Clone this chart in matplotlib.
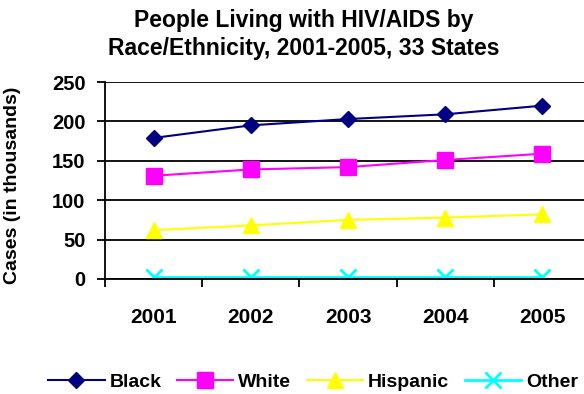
import matplotlib.pyplot as plt

plt.rcParams['font.family'] = ['Liberation Sans', 'DejaVu Sans']
plt.rcParams['font.weight'] = 'bold'

years = ['2001', '2002', '2003', '2004', '2005']
black = [179, 195, 203, 209, 220]
white = [131, 139, 142, 151, 159]
hispanic = [62, 68, 75, 78, 82]
other = [3, 3, 3, 3, 3]

fig = plt.figure(figsize=(5.84, 3.94), dpi=100)
# plot area runs off the right edge of the figure
ax = fig.add_axes([105 / 584, 1 - 279 / 394, 486 / 584, 197 / 394])

x = range(len(years))
ax.plot(x, black, color='#000080', marker='D', markersize=8, lw=1.5, label='Black')
ax.plot(x, white, color='#FF00FF', marker='s', markersize=12, lw=1.5, label='White')
ax.plot(x, hispanic, color='#FFFF00', marker='^', markersize=11, lw=1.5, label='Hispanic')
ax.plot(x, other, color='#00FFFF', marker='x', markersize=11, mew=2, lw=2, label='Other')

ax.set_xlim(-0.5, 4.5)
ax.set_ylim(0, 250)
ax.set_yticks(range(0, 251, 50))
ax.yaxis.grid(True, color='black', lw=1.3)
ax.set_axisbelow(True)
ax.set_xticks(x)
ax.set_xticklabels(years, fontsize=15, fontweight='bold')
ax.tick_params(axis='x', length=0, pad=21)
ax.set_xticks([i - 0.5 for i in range(6)], minor=True)
ax.tick_params(axis='x', which='minor', length=6, width=1.3, direction='out')
ax.tick_params(axis='y', labelsize=14.5, length=6, width=1.3, pad=8)
for t in ax.get_yticklabels():
    t.set_fontweight('bold')
for s in ['top', 'right']:
    ax.spines[s].set_visible(False)
ax.spines['left'].set_linewidth(1.3)
ax.spines['bottom'].set_linewidth(1.3)

ax.set_ylabel('Cases (in thousands)', fontsize=14, fontweight='bold')
ax.yaxis.set_label_coords(21 / 584, 1 - 185 / 394, transform=fig.transFigure)

fig.text(0.52, 1 - 9 / 394, 'People Living with HIV/AIDS by\nRace/Ethnicity, 2001-2005, 33 States',
         ha='center', va='top', fontsize=16.5, fontweight='bold', linespacing=1.3)

fig.legend(loc='center', bbox_to_anchor=(0.536, 1 - 382 / 394), ncol=4, frameon=False,
           handlelength=2.9, columnspacing=0.8, handletextpad=0.25,
           prop={'size': 14, 'weight': 'bold'})

fig.savefig('out.png', dpi=100)
